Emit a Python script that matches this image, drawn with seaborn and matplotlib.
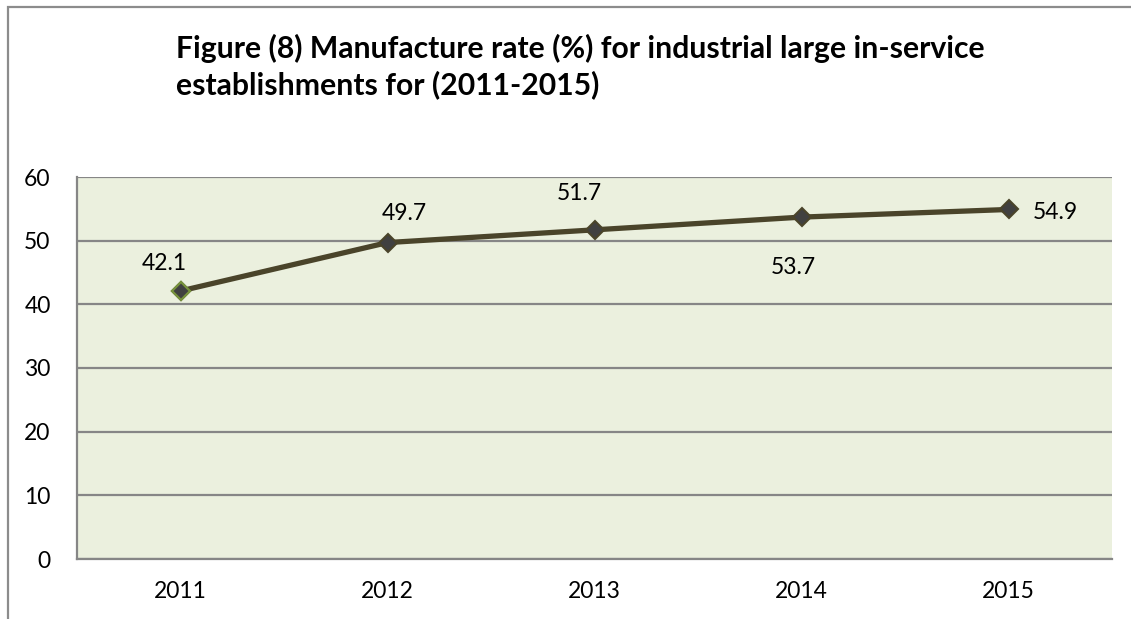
import matplotlib
matplotlib.use("Agg")
import matplotlib.pyplot as plt
import matplotlib.patches as mpatches
import pandas as pd
import seaborn as sns

years = ["2011", "2012", "2013", "2014", "2015"]
rates = [42.1, 49.7, 51.7, 53.7, 54.9]
y_ticks = [0, 10, 20, 30, 40, 50, 60]
title_text = ("Figure (8) Manufacture rate (%) for industrial large in-service\n"
              "establishments for (2011-2015)")

# label offsets (points) relative to each marker
label_offsets = [(-12, 20), (12, 21), (-11, 26), (-6, -36), (34, -2)]

sns.set_style("white")
plt.rcParams["font.family"] = ["Lato", "DejaVu Sans"]

df = pd.DataFrame({"Year": years, "Rate": rates})

fig = plt.figure(figsize=(11.31, 6.19), dpi=100)
ax = fig.add_axes([77 / 1131, 1 - 559 / 619, (1112 - 77) / 1131, (559 - 177) / 619])

# outer chart frame (cropped at right and bottom)
fig.patches.append(mpatches.Rectangle((8 / 1131, -0.1), 1.2, 1.1 - 7 / 619,
                                      transform=fig.transFigure, fill=False,
                                      edgecolor="#8c8c8c", linewidth=1.6))

ax.set_facecolor("#ebf0de")
sns.lineplot(data=df, x="Year", y="Rate", ax=ax, color="#4a442a", linewidth=3.8,
             marker="D", markersize=9.5, markerfacecolor="#404040",
             markeredgecolor="#4a442a", markeredgewidth=1.5, sort=False)
# first point has a green outline
ax.plot([0], [rates[0]], linestyle="none", marker="D", markersize=9.5,
        markerfacecolor="#404040", markeredgecolor="#77933c", markeredgewidth=1.6,
        zorder=5)

for i, (val, off) in enumerate(zip(rates, label_offsets)):
    ax.annotate(f"{val}", (i, val), xytext=off, textcoords="offset points",
                ha="center", va="center", fontsize=16.5, color="#000000")

ax.set_xlim(-0.5, 4.5)
ax.set_ylim(0, 60)
ax.set_yticks(y_ticks)
ax.grid(axis="y", color="#868686", linewidth=1.6)
ax.set_axisbelow(True)
ax.set_xlabel("")
ax.set_ylabel("")
ax.tick_params(axis="both", length=0, labelsize=16.5, labelcolor="#000000")
ax.tick_params(axis="y", pad=19)
ax.tick_params(axis="x", pad=16)
for side in ["top", "right"]:
    ax.spines[side].set_visible(False)
for side in ["left", "bottom"]:
    ax.spines[side].set_color("#868686")
    ax.spines[side].set_linewidth(1.6)

fig.text(176 / 1131, 1 - 34 / 619, title_text, ha="left", va="top",
         fontsize=21.7, fontweight="bold", linespacing=1.3, color="#000000")

fig.savefig("out.png", dpi=100)
